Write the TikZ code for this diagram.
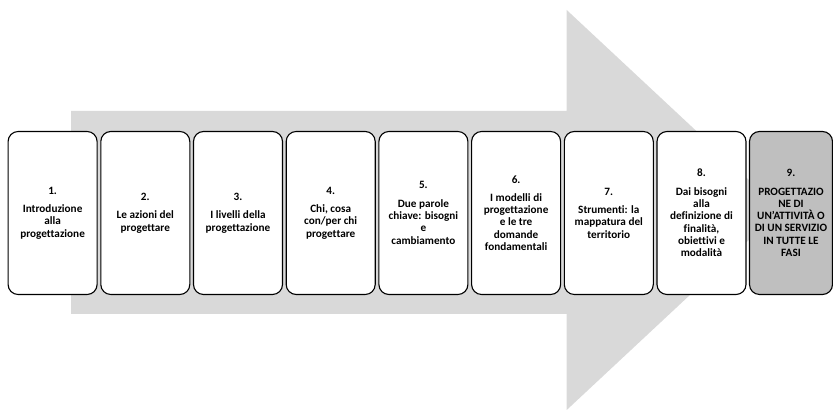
\documentclass[tikz,border=0pt]{standalone}
\usepackage{fontspec}
\setmainfont{Carlito}[Ligatures={NoCommon}]
\usetikzlibrary{positioning}

\begin{document}
\begin{tikzpicture}[
  x=1pt, y=1pt,
  font=\bfseries\fontsize{11.2}{12.3}\selectfont,
  bigarrow/.style={fill=black!15, draw=none},
  phase/.style={draw, line width=1.1pt, rounded corners=10pt, align=center, minimum width=89pt, minimum height=163pt, fill=white, inner sep=2pt},
  lastphase/.style={phase, fill=black!25, minimum width=83pt}
]
\useasboundingbox (0,0) rectangle (833,411);

% big background arrow
\path[bigarrow] (71,300) -- (566.7,300) -- (566.7,401) -- (781,201)
  -- (566.7,1) -- (566.7,97) -- (71,97) -- cycle;

\node[phase] (p1) at (52.6,198) {1.\\[6pt]Introduzione\\alla\\progettazione};
\node[phase] (p2) at (145.3,198) {2.\\[6pt]Le azioni del\\progettare};
\node[phase] (p3) at (238,198) {3.\\[6pt]I livelli della\\progettazione};
\node[phase] (p4) at (330.7,198) {4.\\[6pt]Chi, cosa\\con/per chi\\progettare};
\node[phase] (p5) at (423.4,198) {5.\\[6pt]Due parole\\chiave: bisogni\\e\\cambiamento};
\node[phase] (p6) at (516.1,198) {6.\\[6pt]I modelli di\\progettazione\\e le tre\\domande\\fondamentali};
\node[phase] (p7) at (608.8,198) {7.\\[6pt]Strumenti: la\\mappatura del\\territorio};
\node[phase] (p8) at (701.5,198) {8.\\[6pt]Dai bisogni\\alla\\definizione di\\finalità,\\obiettivi e\\modalità};
\node[lastphase] (p9) at (791,198) {9.\\[6pt]PROGETTAZIO\\NE DI\\UN’ATTIVITÀ O\\DI UN SERVIZIO\\IN TUTTE LE\\FASI};

\end{tikzpicture}
\end{document}
